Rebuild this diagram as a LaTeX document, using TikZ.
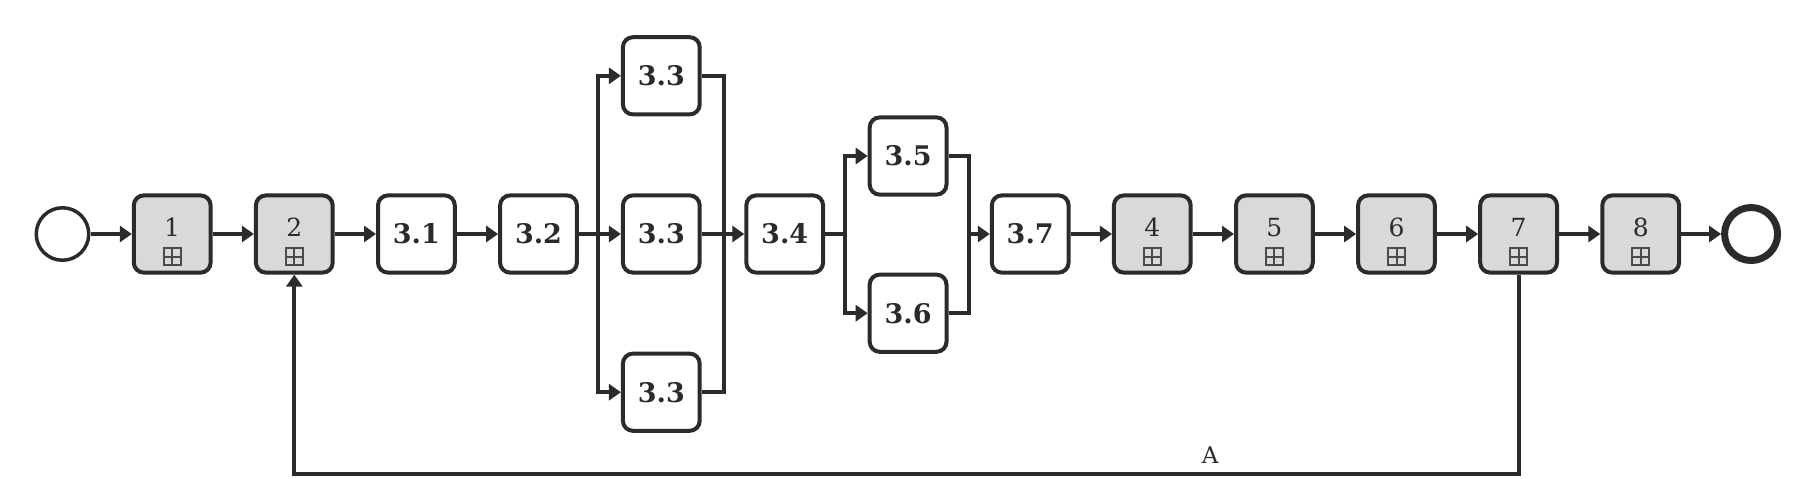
\documentclass[tikz,border=0pt]{standalone}
\usepackage{fontspec}
\setmainfont{DejaVu Serif}
\usetikzlibrary{positioning,arrows.meta}
\definecolor{ink}{HTML}{2B2B2B}
\definecolor{subfill}{HTML}{D9D9D9}
\tikzset{
  task/.style={draw=ink, line width=2pt, rounded corners=5pt, minimum width=38.4pt, minimum height=38.6pt,
    inner sep=0pt, text=ink, font=\fontsize{13.5}{16}\selectfont\bfseries},
  sub/.style={task, fill=subfill, font=\fontsize{12.5}{15}\selectfont, text height=9.1pt, text depth=7pt,
    path picture={
      \draw[sharp corners, line width=1pt, draw=ink!85]
        ([xshift=-4.25pt, yshift=3.65pt]path picture bounding box.south) rectangle ++(8.5pt,8.5pt)
        ([yshift=3.65pt]path picture bounding box.south) -- ++(0,8.5pt)
        ([xshift=-4.25pt, yshift=7.9pt]path picture bounding box.south) -- ++(8.5pt,0);
    }},
  startev/.style={circle, draw=ink, line width=1.75pt, minimum size=26.25pt, inner sep=0pt},
  endev/.style={circle, draw=ink, line width=3.5pt, minimum size=26.5pt, inner sep=0pt},
  line/.style={draw=ink, line width=2pt},
  arr/.style={line, -{Triangle[length=6pt, width=8pt]}},
}

\begin{document}
\begin{tikzpicture}[x=0.5pt, y=-0.5pt, node distance=20.65pt]
  \useasboundingbox (0,0) rectangle (1816,478);
  % main row
  \node[startev] (start) at (62.5,234) {};
  \node[sub, right=of start] (t1) {1};
  \node[sub, right=of t1] (t2) {2};
  \node[task, right=of t2] (t31) {3.1};
  \node[task, right=of t31] (t32) {3.2};
  \node[task, right=21pt of t32] (t33b) {3.3};
  \node[task, above=38.5pt of t33b] (t33a) {3.3};
  \node[task, below=38.5pt of t33b] (t33c) {3.3};
  \node[task, right=21.3pt of t33b] (t34) {3.4};
  \node[task, right=21.3pt of t34, yshift=39pt] (t35) {3.5};
  \node[task, below=38pt of t35] (t36) {3.6};
  \node[task, right=of t35, yshift=-39pt] (t37) {3.7};
  \node[sub, right=of t37] (t4) {4};
  \node[sub, right=of t4] (t5) {5};
  \node[sub, right=of t5] (t6) {6};
  \node[sub, right=of t6] (t7) {7};
  \node[sub, right=of t7] (t8) {8};
  \node[endev, right=20pt of t8] (end) {};

  % split and merge points
  \coordinate[right=9.5pt of t32] (sp1);
  \coordinate[left=10pt of t34] (mg1);
  \coordinate[right=10pt of t34] (sp2);
  \coordinate[left=10.5pt of t37] (mg2);
  \coordinate[below=99.6pt of t7.south] (lp);

  \draw[arr] (start) -- (t1);
  \draw[arr] (t1) -- (t2);
  \draw[arr] (t2) -- (t31);
  \draw[arr] (t31) -- (t32);
  \draw[arr] (t32) -- (t33b);
  \draw[arr] (sp1) |- (t33a);
  \draw[arr] (sp1) |- (t33c);
  \draw[line] (t33a) -| (mg1);
  \draw[line] (t33c) -| (mg1);
  \draw[arr] (t33b) -- (t34);
  \draw[line] (t34) -- (sp2);
  \draw[arr] (sp2) |- (t35);
  \draw[arr] (sp2) |- (t36);
  \draw[line] (t35) -| (mg2);
  \draw[line] (t36) -| (mg2);
  \draw[arr] (mg2) -- (t37);
  \draw[arr] (t37) -- (t4);
  \draw[arr] (t4) -- (t5);
  \draw[arr] (t5) -- (t6);
  \draw[arr] (t6) -- (t7);
  \draw[arr] (t7) -- (t8);
  \draw[arr] (t8) -- (end);

  % loop back
  \draw[arr] (t7) -- (lp) -| node[pos=0.126, above, inner sep=4pt, text=ink,
    font=\fontsize{11.5}{14}\selectfont] {A} (t2);
\end{tikzpicture}
\end{document}
